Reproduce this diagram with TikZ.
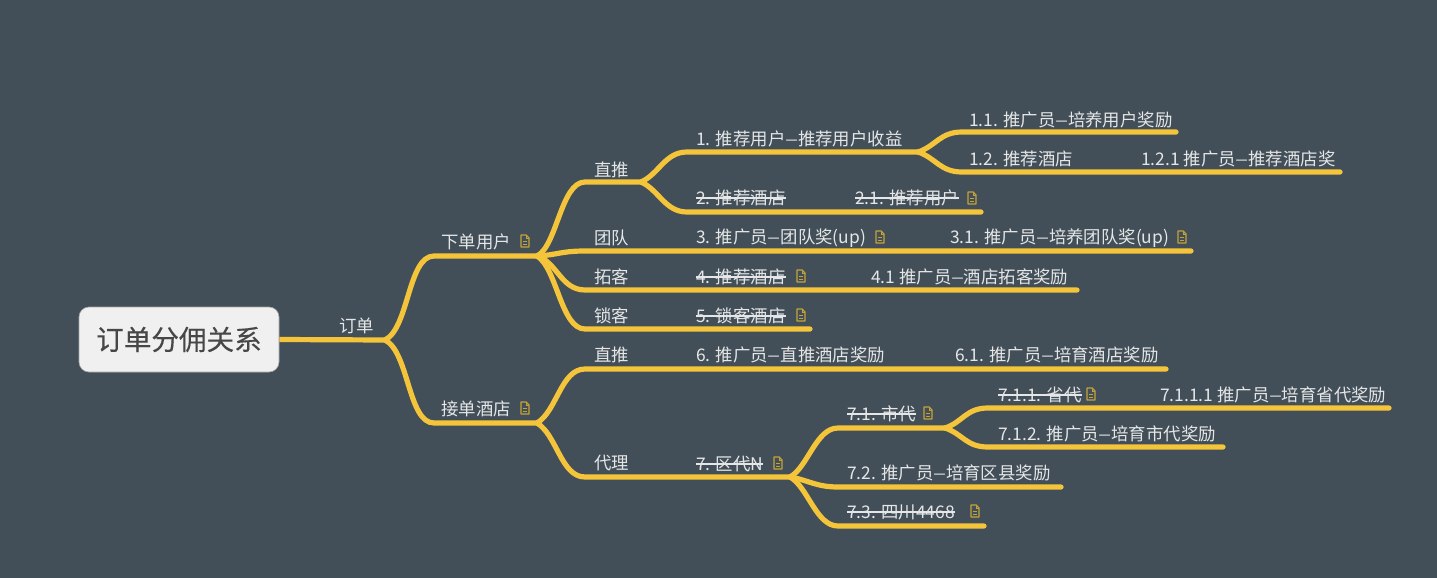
\documentclass[tikz,border=0pt]{standalone}
\usepackage{graphicx}
\usepackage{fontspec}
\setmainfont{Noto Sans CJK SC}
\definecolor{bgslate}{HTML}{434F58}
\definecolor{linegold}{HTML}{F4C53A}
\definecolor{icongold}{HTML}{C4A238}
\definecolor{rootfill}{HTML}{F0F0F0}
\definecolor{labelgray}{HTML}{E4E6E7}
\newcommand{\dashmark}{\makebox[12.5pt]{\scalebox{1.4}[1]{–}}}
\newfontfamily\rootfont[FakeBold=0.3]{Noto Sans CJK SC}
\tikzset{
    branch/.style={linegold, line width=5.2pt, line cap=round, line join=round},
    topic/.style={anchor=west, inner sep=0pt, yshift=-1pt, text=labelgray, font=\fontsize{17.4}{20}\selectfont},
    strikeline/.style={labelgray, line width=1.3pt},
    rootbox/.style={draw=gray!70, line width=0.6pt, fill=rootfill, rounded corners=10pt, minimum width=200pt, minimum height=65pt, text=black!72, font=\fontsize{27.6}{32}\rootfont},
    noteicon/.pic={
        \draw[icongold, line width=1.2pt, line join=round] (-4,-6) -- (1.2,-6) -- (4,-3) -- (4,6) -- (-4,6) -- cycle;
        \draw[icongold, line width=0.9pt] (1.2,-6) -- (1.2,-3) -- (4,-3);
        \draw[icongold, line width=0.9pt] (-2,0) -- (2,0);
        \draw[icongold, line width=0.9pt] (-2,3) -- (2,3);
    }
}
\begin{document}
\begin{tikzpicture}[x=1pt, y=-1pt]
    \useasboundingbox[fill=bgslate] (0, 0) rectangle (1437, 578);
    % hubs
    \coordinate (hubroot) at (385, 340);
    \coordinate (hubuser) at (537, 256);
    \coordinate (hubhotel) at (537, 423);
    \coordinate (hubdirect) at (641, 182);
    \coordinate (hubone) at (918, 152);
    \coordinate (hubseven) at (790, 477);
    \coordinate (hubsevenone) at (945, 428);
    % line ends
    \coordinate (userstart) at (434, 256);
    \coordinate (hotelstart) at (434, 423);
    \coordinate (directstart) at (585, 182);
    \coordinate (teamstart) at (585, 251);
    \coordinate (teamend) at (1191, 251);
    \coordinate (expandstart) at (585, 290);
    \coordinate (expandend) at (1077, 290);
    \coordinate (lockstart) at (585, 329);
    \coordinate (lockend) at (810, 329);
    \coordinate (hdirectstart) at (585, 369);
    \coordinate (hdirectend) at (1166, 369);
    \coordinate (agentstart) at (585, 477);
    \coordinate (onestart) at (687, 152);
    \coordinate (twostart) at (687, 212);
    \coordinate (twoend) at (981, 212);
    \coordinate (oneonestart) at (962, 132);
    \coordinate (oneoneend) at (1176, 132);
    \coordinate (onetwostart) at (962, 172);
    \coordinate (onetwoend) at (1340, 172);
    \coordinate (soneestart) at (838, 428);
    \coordinate (stwostart) at (838, 487);
    \coordinate (stwoend) at (1061, 487);
    \coordinate (sthreestart) at (838, 526);
    \coordinate (sthreeend) at (984, 526);
    \coordinate (ssonestart) at (988, 408);
    \coordinate (ssoneend) at (1389, 408);
    \coordinate (sstwostart) at (988, 447);
    \coordinate (sstwoend) at (1223, 447);
    % root
    \node[rootbox] (root) at (179, 339.5) {订单分佣关系};
    \draw[branch, line cap=butt] (root.east) -- (hubroot);
    % connectors
    \draw[branch] (hubroot) .. controls +(24,-12) and +(-26,0) .. (userstart) -- (hubuser);
    \draw[branch] (hubroot) .. controls +(24,12) and +(-26,0) .. (hotelstart) -- (hubhotel);
    \draw[branch] (hubuser) .. controls +(20,-10) and +(-24,0) .. (directstart) -- (hubdirect);
    \draw[branch] (hubuser) .. controls +(20,-1) and +(-24,0) .. (teamstart) -- (teamend);
    \draw[branch] (hubuser) .. controls +(20,6) and +(-24,0) .. (expandstart) -- (expandend);
    \draw[branch] (hubuser) .. controls +(20,12) and +(-24,0) .. (lockstart) -- (lockend);
    \draw[branch] (hubhotel) .. controls +(20,-12) and +(-24,0) .. (hdirectstart) -- (hdirectend);
    \draw[branch] (hubhotel) .. controls +(20,12) and +(-24,0) .. (agentstart) -- (hubseven);
    \draw[branch] (hubdirect) .. controls +(18,-8) and +(-22,0) .. (onestart) -- (hubone);
    \draw[branch] (hubdirect) .. controls +(18,8) and +(-22,0) .. (twostart) -- (twoend);
    \draw[branch] (hubone) .. controls +(18,-6) and +(-22,0) .. (oneonestart) -- (oneoneend);
    \draw[branch] (hubone) .. controls +(18,6) and +(-22,0) .. (onetwostart) -- (onetwoend);
    \draw[branch] (hubseven) .. controls +(18,-10) and +(-22,0) .. (soneestart) -- (hubsevenone);
    \draw[branch] (hubseven) .. controls +(18,3) and +(-22,0) .. (stwostart) -- (stwoend);
    \draw[branch] (hubseven) .. controls +(18,10) and +(-22,0) .. (sthreestart) -- (sthreeend);
    \draw[branch] (hubsevenone) .. controls +(18,-6) and +(-22,0) .. (ssonestart) -- (ssoneend);
    \draw[branch] (hubsevenone) .. controls +(18,6) and +(-22,0) .. (sstwostart) -- (sstwoend);
    % labels
    \node[topic] (order) at (339, 325) {订单};
    \node[topic] (user) at (441, 241) {下单用户};
    \node[topic] (hotel) at (441, 408) {接单酒店};
    \node[topic] (direct) at (594, 169) {直推};
    \node[topic] (team) at (594, 237) {团队};
    \node[topic] (expand) at (594, 276) {拓客};
    \node[topic] (lock) at (594, 315) {锁客};
    \node[topic] (hdirect) at (594, 354) {直推};
    \node[topic] (agent) at (594, 462) {代理};
    \node[topic] (one) at (696, 138) {1. 推荐用户\dashmark 推荐用户收益};
    \node[topic] (two) at (696, 197) {2. 推荐酒店};
    \node[topic] (twoone) at (855, 197) {2.1. 推荐用户};
    \node[topic] (three) at (696, 237) {3. 推广员\dashmark 团队奖(up)};
    \node[topic] (threeone) at (950, 237) {3.1. 推广员\dashmark 培养团队奖(up)};
    \node[topic] (four) at (696, 276) {4. 推荐酒店};
    \node[topic] (fourone) at (871, 276) {4.1 推广员\dashmark 酒店拓客奖励};
    \node[topic] (five) at (696, 315) {5. 锁客酒店};
    \node[topic] (six) at (696, 354) {6. 推广员\dashmark 直推酒店奖励};
    \node[topic] (sixone) at (955, 354) {6.1. 推广员\dashmark 培育酒店奖励};
    \node[topic] (seven) at (696, 463) {7. 区代N};
    \node[topic] (oneone) at (969, 119) {1.1. 推广员\dashmark 培养用户奖励};
    \node[topic] (onetwo) at (969, 158) {1.2. 推荐酒店};
    \node[topic] (onetwoone) at (1141, 158) {1.2.1 推广员\dashmark 推荐酒店奖};
    \node[topic] (sone) at (847, 413) {7.1. 市代};
    \node[topic] (stwo) at (847, 472) {7.2. 推广员\dashmark 培育区县奖励};
    \node[topic] (sthree) at (847, 511) {7.3. 四川4468};
    \node[topic] (ssone) at (998, 394) {7.1.1. 省代};
    \node[topic] (ssoneone) at (1160, 394) {7.1.1.1 推广员\dashmark 培育省代奖励};
    \node[topic] (sstwo) at (998, 433) {7.1.2. 推广员\dashmark 培育市代奖励};
    % struck out
    \draw[strikeline] (two.west) -- (two.east);
    \draw[strikeline] (twoone.west) -- (twoone.east);
    \draw[strikeline] (four.west) -- (four.east);
    \draw[strikeline] (five.west) -- (five.east);
    \draw[strikeline] (seven.west) -- (seven.east);
    \draw[strikeline] (sone.west) -- (sone.east);
    \draw[strikeline] (sthree.west) -- (sthree.east);
    \draw[strikeline] (ssone.west) -- (ssone.east);
    % notes
    \pic at (525, 241) {noteicon};
    \pic at (525, 408) {noteicon};
    \pic at (972, 198) {noteicon};
    \pic at (880, 237) {noteicon};
    \pic at (1182, 237) {noteicon};
    \pic at (801, 276) {noteicon};
    \pic at (801, 315) {noteicon};
    \pic at (928, 413) {noteicon};
    \pic at (1091, 394) {noteicon};
    \pic at (778, 463) {noteicon};
    \pic at (975, 511) {noteicon};
\end{tikzpicture}
\end{document}
